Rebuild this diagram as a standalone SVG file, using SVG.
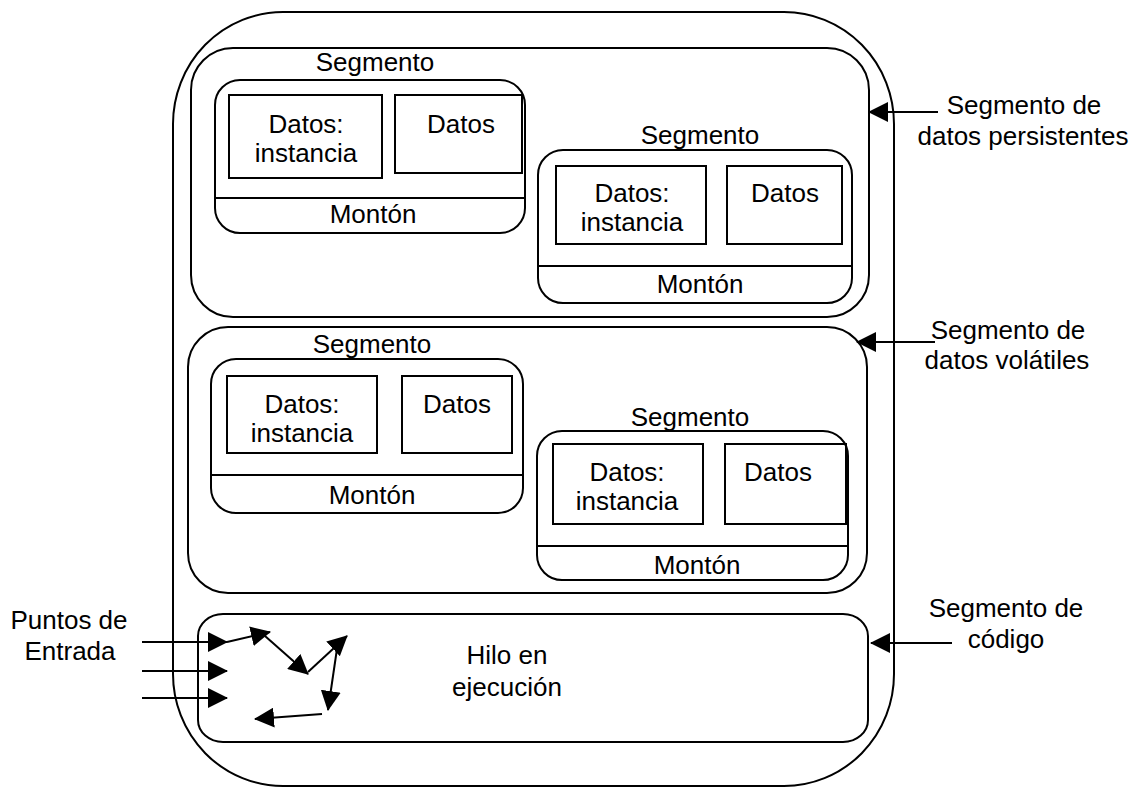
<svg xmlns="http://www.w3.org/2000/svg" width="1135" height="789" viewBox="0 0 1135 789">
  <defs>
    <style>
      .box { fill: none; stroke: #000; stroke-width: 2; }
      .wire { fill: none; stroke: #000; stroke-width: 2; marker-end: url(#head); }
      .lbl { font-family: "Liberation Sans", Arial, sans-serif; font-size: 26px; fill: #000; text-anchor: middle; }
    </style>
    <marker id="head" viewBox="0 0 20 20" markerUnits="userSpaceOnUse" markerWidth="20" markerHeight="20" refX="19" refY="10" orient="auto">
      <path d="M0,0 L20,10 L0,20 z" fill="#000"/>
    </marker>
  </defs>
  <rect width="1135" height="789" fill="#fff"/>

  <!-- process container -->
  <g id="proceso">
    <rect class="box" x="173" y="12" width="721" height="774" rx="110" ry="112"/>
  </g>

  <!-- persistent data segment -->
  <g id="seg-persistente">
    <rect class="box" x="191" y="48" width="678" height="269" rx="42"/>
  </g>
  <g id="segmento-p1">
    <text class="lbl" x="375" y="71">Segmento</text>
    <rect class="box" x="215" y="80" width="310" height="153" rx="25"/>
    <rect class="box" x="229" y="95" width="153" height="83"/>
    <rect class="box" x="395" y="95" width="127" height="78"/>
    <line class="box" x1="215" y1="198" x2="525" y2="198"/>
    <text class="lbl" x="306" y="133">Datos:</text>
    <text class="lbl" x="306" y="162">instancia</text>
    <text class="lbl" x="461" y="133">Datos</text>
    <text class="lbl" x="373" y="223">Montón</text>
  </g>
  <g id="segmento-p2">
    <text class="lbl" x="700" y="144">Segmento</text>
    <rect class="box" x="538" y="150" width="314" height="153" rx="25"/>
    <rect class="box" x="556" y="166" width="150" height="78"/>
    <rect class="box" x="727" y="166" width="115" height="78"/>
    <line class="box" x1="538" y1="266" x2="852" y2="266"/>
    <text class="lbl" x="632" y="202">Datos:</text>
    <text class="lbl" x="632" y="231">instancia</text>
    <text class="lbl" x="785" y="202">Datos</text>
    <text class="lbl" x="700" y="293">Montón</text>
  </g>

  <!-- volatile data segment -->
  <g id="seg-volatil">
    <rect class="box" x="188" y="327" width="679" height="266" rx="40"/>
  </g>
  <g id="segmento-v1">
    <text class="lbl" x="372" y="353">Segmento</text>
    <rect class="box" x="211" y="359" width="312" height="154" rx="25"/>
    <rect class="box" x="227" y="376" width="150" height="77"/>
    <rect class="box" x="402" y="376" width="110" height="77"/>
    <line class="box" x1="211" y1="475" x2="523" y2="475"/>
    <text class="lbl" x="302" y="413">Datos:</text>
    <text class="lbl" x="302" y="442">instancia</text>
    <text class="lbl" x="457" y="413">Datos</text>
    <text class="lbl" x="372" y="504">Montón</text>
  </g>
  <g id="segmento-v2">
    <text class="lbl" x="690" y="426">Segmento</text>
    <rect class="box" x="537" y="431" width="311" height="149" rx="25"/>
    <rect class="box" x="553" y="444" width="150" height="80"/>
    <rect class="box" x="725" y="444" width="121" height="80"/>
    <line class="box" x1="537" y1="546" x2="848" y2="546"/>
    <text class="lbl" x="627" y="481">Datos:</text>
    <text class="lbl" x="627" y="510">instancia</text>
    <text class="lbl" x="778" y="481">Datos</text>
    <text class="lbl" x="697" y="574">Montón</text>
  </g>

  <!-- code segment -->
  <g id="seg-codigo">
    <rect class="box" x="198" y="614" width="670" height="128" rx="25" ry="22"/>
    <text class="lbl" x="507" y="664">Hilo en</text>
    <text class="lbl" x="507" y="696">ejecución</text>
  </g>

  <!-- side labels -->
  <g id="lbl-persistente">
    <text class="lbl" x="1024" y="114">Segmento de</text>
    <text class="lbl" x="1023" y="145">datos persistentes</text>
  </g>
  <g id="lbl-volatil">
    <text class="lbl" x="1008" y="339">Segmento de</text>
    <text class="lbl" x="1007" y="369">datos volátiles</text>
  </g>
  <g id="lbl-codigo">
    <text class="lbl" x="1006" y="617">Segmento de</text>
    <text class="lbl" x="1006" y="648">código</text>
  </g>
  <g id="lbl-entrada">
    <text class="lbl" x="69" y="629">Puntos de</text>
    <text class="lbl" x="70" y="660">Entrada</text>
  </g>

  <!-- connectors -->
  <g id="conectores">
    <line class="wire" x1="938" y1="112" x2="869" y2="112"/>
    <line class="wire" x1="935" y1="342" x2="857" y2="342"/>
    <line class="wire" x1="952" y1="643" x2="871" y2="643"/>
    <line class="wire" x1="142" y1="642" x2="227" y2="642"/>
    <line class="wire" x1="142" y1="671" x2="227" y2="671"/>
    <line class="wire" x1="142" y1="698" x2="227" y2="698"/>
    <line class="wire" x1="227" y1="642" x2="270" y2="632"/>
    <line class="wire" x1="265" y1="636" x2="308" y2="674"/>
    <line class="wire" x1="308" y1="672" x2="347" y2="636"/>
    <line class="wire" x1="338" y1="642" x2="328" y2="710"/>
    <line class="wire" x1="322" y1="714" x2="255" y2="719"/>
  </g>
</svg>
